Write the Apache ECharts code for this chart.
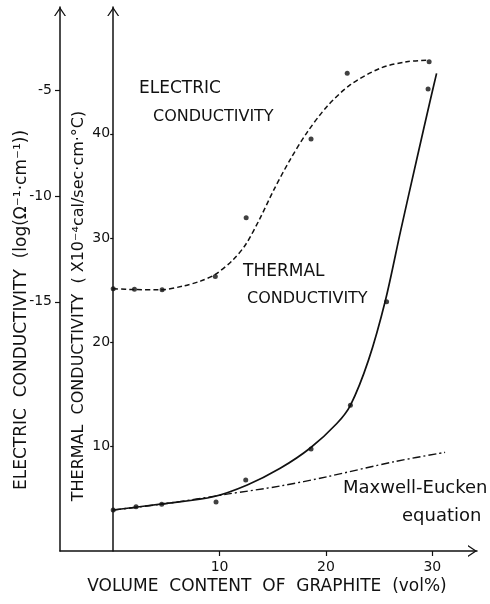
<!DOCTYPE html>
<html>
<head>
<meta charset="utf-8">
<title>Conductivity vs graphite content</title>
<script src="https://cdn.jsdelivr.net/npm/echarts@6/dist/echarts.min.js"></script>
<style>
  html, body { margin: 0; padding: 0; background: #fff; }
  #chart { width: 490px; height: 604px; }
</style>
</head>
<body>
<div id="chart"></div>
<script>
// Graphite volume content (vol%) for each measured sample
const electricX = [0, 2, 4.6, 9.6, 12.5, 18.6, 22.0, 29.7];
// log(Ω⁻¹·cm⁻¹)
const electricY = [-14.38, -14.4, -14.43, -13.8, -11.02, -7.29, -4.18, -3.63];

const thermalX = [0, 2.15, 4.56, 9.67, 12.46, 18.6, 22.3, 25.7, 29.6];
// ×10⁻⁴ cal/sec·cm·°C
const thermalY = [3.93, 4.25, 4.48, 4.7, 6.81, 9.78, 13.97, 23.9, 44.3];

// Fitted trend lines
const electricFitX = [0, 2, 4.5, 6.6, 8.2, 9.6, 11.3, 12.5, 13.8, 15.1, 16.6, 18.2, 20.1, 22.3, 25.1, 27.6, 29.7];
const electricFitY = [-14.38, -14.42, -14.43, -14.25, -14.02, -13.7, -13.0, -12.25, -11.05, -9.7, -8.3, -7.0, -5.75, -4.72, -3.94, -3.63, -3.56];

const thermalFitX = [0, 5, 9.4, 12.6, 15.7, 18.5, 21.0, 22.3, 24.0, 25.6, 27.0, 28.5, 29.8, 30.4];
const thermalFitY = [3.93, 4.57, 5.2, 6.33, 7.93, 9.85, 12.2, 13.97, 18.3, 24.07, 30.6, 37.4, 43.2, 45.8];

// Maxwell-Eucken prediction
const maxwellX = [0, 5, 10.7, 15.7, 20.1, 26.4, 31.2];
const maxwellY = [3.93, 4.55, 5.45, 6.23, 7.12, 8.56, 9.46];

// Tick labels
const xTicks = [10, 20, 30];
const electricTicks = [-15, -10, -5];
const thermalTicks = [10, 20, 30, 40];

const pairs = (xs, ys) => xs.map((x, i) => [x, ys[i]]);

const FONT = 'DejaVu Sans';
const INK = '#111';
// open chevron arrow head, pointing up
const ARROW = 'path://M0,9 L6,0 L12,9 L10.6,9 L6,2.2 L1.4,9 Z';

const axisLineBase = {
  onZero: false,
  lineStyle: { color: INK, width: 1.5 },
  symbol: ['none', ARROW],
  symbolSize: [12, 9],
  symbolOffset: [0, -4.5]
};

const GRID_LEFT = 60;
const X_MIN = -5;
const X_MAX = 34.2;
const GRID_RIGHT = 13;
const CHART_W = 490;
// pixel distance from the outer axis to the zero-content line
const innerShift = (0 - X_MIN) / (X_MAX - X_MIN) * (CHART_W - GRID_LEFT - GRID_RIGHT);

const chart = echarts.init(document.getElementById('chart'), null, { renderer: 'canvas' });

const option = {
  backgroundColor: '#fff',
  animation: false,
  grid: { left: GRID_LEFT, right: GRID_RIGHT, top: 7, bottom: 53 },
  xAxis: {
    type: 'value',
    min: X_MIN,
    max: X_MAX,
    splitLine: { show: false },
    axisLine: axisLineBase,
    axisTick: { show: true, length: 5, lineStyle: { color: INK, width: 1.2 }, customValues: xTicks },
    axisLabel: { customValues: xTicks, margin: 9, color: INK, fontFamily: FONT, fontSize: 14 }
  },
  yAxis: [
    {
      // electric conductivity (log values), outer axis
      type: 'value',
      position: 'left',
      min: -26.8,
      max: -1.04,
      splitLine: { show: false },
      axisLine: axisLineBase,
      axisTick: { show: true, length: 5, lineStyle: { color: INK, width: 1.2 }, customValues: electricTicks },
      axisLabel: { customValues: electricTicks, margin: 8, color: INK, fontFamily: FONT, fontSize: 14 }
    },
    {
      // thermal conductivity, inner axis drawn at zero graphite content
      type: 'value',
      position: 'left',
      offset: -innerShift,
      min: 0,
      max: 52.16,
      splitLine: { show: false },
      axisLine: axisLineBase,
      axisTick: { show: true, length: 3, lineStyle: { color: INK, width: 1.2 }, customValues: thermalTicks },
      axisLabel: { customValues: thermalTicks, margin: 3, color: INK, fontFamily: FONT, fontSize: 14 }
    }
  ],
  series: [
    {
      name: 'Electric conductivity fit',
      type: 'line',
      yAxisIndex: 0,
      data: pairs(electricFitX, electricFitY),
      smooth: 0.3,
      showSymbol: false,
      symbol: 'none',
      lineStyle: { color: INK, width: 1.5, type: [5, 3] },
      z: 3
    },
    {
      name: 'Thermal conductivity fit',
      type: 'line',
      yAxisIndex: 1,
      data: pairs(thermalFitX, thermalFitY),
      smooth: 0.3,
      showSymbol: false,
      symbol: 'none',
      lineStyle: { color: INK, width: 1.7 },
      z: 3
    },
    {
      name: 'Maxwell-Eucken equation',
      type: 'line',
      yAxisIndex: 1,
      data: pairs(maxwellX, maxwellY),
      smooth: 0.3,
      showSymbol: false,
      symbol: 'none',
      lineStyle: { color: INK, width: 1.4, type: [8, 3, 2, 3] },
      z: 2
    },
    {
      name: 'Electric conductivity',
      type: 'scatter',
      yAxisIndex: 0,
      data: pairs(electricX, electricY),
      symbol: 'circle',
      symbolSize: 5,
      itemStyle: { color: INK },
      z: 5
    },
    {
      name: 'Thermal conductivity',
      type: 'scatter',
      yAxisIndex: 1,
      data: pairs(thermalX, thermalY),
      symbol: 'circle',
      symbolSize: 5,
      itemStyle: { color: INK },
      z: 5
    }
  ],
  graphic: [
    {
      type: 'text', x: 22, y: 310, rotation: Math.PI / 2,
      style: { text: 'ELECTRIC  CONDUCTIVITY  (log(Ω⁻¹·cm⁻¹))', font: '17px "DejaVu Sans"', fill: INK, align: 'center', verticalAlign: 'middle' }
    },
    {
      type: 'text', x: 79, y: 306, rotation: Math.PI / 2,
      style: { text: 'THERMAL  CONDUCTIVITY  ( X10⁻⁴cal/sec·cm·°C)', font: '16px "DejaVu Sans"', fill: INK, align: 'center', verticalAlign: 'middle' }
    },
    {
      type: 'text', x: 267, y: 587,
      style: { text: 'VOLUME  CONTENT  OF  GRAPHITE  (vol%)', font: '17px "DejaVu Sans"', fill: INK, align: 'center', verticalAlign: 'middle' }
    },
    {
      type: 'text', x: 139, y: 89,
      style: { text: 'ELECTRIC', font: '17px "DejaVu Sans"', fill: INK, align: 'left', verticalAlign: 'middle' }
    },
    {
      type: 'text', x: 153, y: 117,
      style: { text: 'CONDUCTIVITY', font: '16px "DejaVu Sans"', fill: INK, align: 'left', verticalAlign: 'middle' }
    },
    {
      type: 'text', x: 243, y: 272,
      style: { text: 'THERMAL', font: '17px "DejaVu Sans"', fill: INK, align: 'left', verticalAlign: 'middle' }
    },
    {
      type: 'text', x: 247, y: 299,
      style: { text: 'CONDUCTIVITY', font: '16px "DejaVu Sans"', fill: INK, align: 'left', verticalAlign: 'middle' }
    },
    {
      type: 'text', x: 343, y: 488,
      style: { text: 'Maxwell-Eucken', font: '18px "DejaVu Sans"', fill: INK, align: 'left', verticalAlign: 'middle' }
    },
    {
      type: 'text', x: 402, y: 516,
      style: { text: 'equation', font: '18px "DejaVu Sans"', fill: INK, align: 'left', verticalAlign: 'middle' }
    }
  ]
};

chart.setOption(option);
</script>
</body>
</html>
